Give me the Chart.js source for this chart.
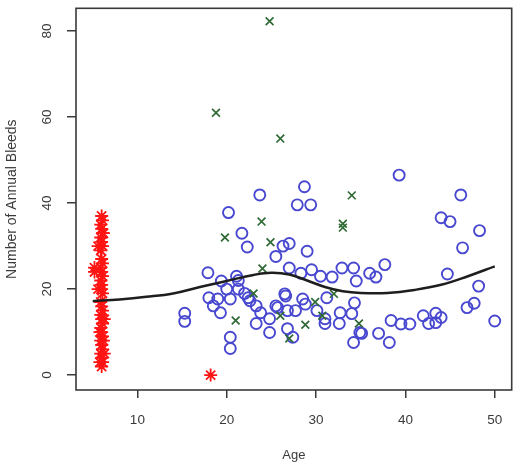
<!DOCTYPE html>
<html>
<head>
<meta charset="utf-8">
<script src="https://cdn.jsdelivr.net/npm/chart.js@4/dist/chart.umd.min.js"></script>
<style>
  html, body { margin: 0; padding: 0; background: #fff; }
  #wrap { width: 520px; height: 469px; }
</style>
</head>
<body>
<div id="wrap"><canvas id="bleedChart" width="520" height="469"></canvas></div>
<script>
// tick labels
const xTicks = [10, 20, 30, 40, 50];
const yTicks = [0, 20, 40, 60, 80];

// red stars: age, bleeds
const starAge = [6, 6.1, 5.9, 6, 6.1, 5.9, 6, 6.1, 5.9, 6, 6.1, 5.9, 6, 6.1, 5.9, 6, 6, 6.1, 5.9, 6, 6.1, 5.9, 6, 6.1, 5.9, 6, 6.1, 5.9, 6, 6.1, 5.9, 6, 6.1, 6,
  5.2, 5.2, 5.6, 5.6, 6.3, 6.3, 6.2, 5.8, 6.2, 5.8, 18.2];
const starBleeds = [37, 36, 35, 34, 33, 32, 31, 30, 29, 27, 26, 25, 24, 23, 22, 21, 20, 19, 17, 16, 15, 14, 13, 12, 11, 10, 9, 8, 7, 6, 5, 4, 3, 2,
  25, 24, 30, 20, 13, 5, 8, 10, 33, 3, 0];

// blue circles: age, bleeds
const circleAge = [15.3, 15.3, 17.9, 20.2, 21.7, 22.3, 23.7, 19.4, 21.1, 20, 21.3, 18, 19, 20.4, 18.5, 19.3, 22.6, 23.3,
  23.8, 23.3, 24.8, 20.4, 20.4, 26.3, 27, 25.5, 29, 27, 28.3, 21.3, 22.4, 26.5, 28.5, 25.5, 26.8, 27.7, 24.8, 30.1,
  31, 26.8, 27.4, 28.7, 27.9, 29.4, 39.3, 46.2, 44, 45, 48.3, 46.4, 37.7, 44.7, 48.2, 46.9, 47.7, 50, 38.4, 39.5,
  40.5, 42, 42.6, 43.4, 44, 43.4, 37, 38.2, 34.2, 35.1, 32.9, 34.2, 31.8, 36, 36.7, 34.5, 26.6, 28.8, 31.2, 34.3,
  32.7, 34, 31, 32.6, 25.7, 34.9, 22, 29.5, 30.5];
const circleBleeds = [14.4, 12.5, 23.8, 37.8, 33, 29.8, 41.9, 21.9, 23, 20, 20, 18, 17.7, 17.7, 16.1, 14.5, 17.3, 16.1,
  14.5, 12, 9.9, 8.8, 6.2, 30, 30.6, 27.6, 28.8, 24.9, 23.7, 22, 18, 18.9, 17.7, 16.1, 15, 15, 13.1, 15,
  13.1, 10.8, 8.8, 43.8, 39.6, 39.6, 46.5, 41.9, 36.6, 35.7, 33.6, 29.6, 25.7, 23.5, 20.7, 15.7, 16.7, 12.6, 12.7, 11.9,
  11.9, 13.8, 12, 14.4, 13.4, 12.2, 9.7, 7.6, 7.6, 9.7, 24.9, 24.9, 22.8, 23.7, 22.8, 21.9, 18.4, 16.5, 18, 16.8,
  14.5, 14.3, 12, 12, 15.7, 9.9, 19, 24.5, 23];

// green crosses: age, bleeds
const crossAge = [24.8, 18.8, 26, 34, 23.9, 19.8, 24.9, 33, 33, 24, 23, 21, 29.9, 28.8, 27, 30.7, 32, 34.8, 26];
const crossBleeds = [82.3, 61, 55, 41.8, 35.7, 32, 30.9, 34.3, 35.2, 24.8, 19, 12.7, 17, 11.7, 8.5, 13.8, 18.9, 12, 13.8];

// smoothed fit line
const fitAge = [5, 8, 11, 14, 17, 20, 23, 25, 27, 29, 31, 33, 35, 38, 41, 44, 47, 50];
const fitBleeds = [17.2, 17.6, 18.2, 19.0, 20.5, 21.9, 23.3, 23.8, 23.4, 22.0, 20.5, 19.5, 19.1, 19.1, 19.8, 21.0, 23.0, 25.3];

const toPoints = (xs, ys) => xs.map((x, i) => ({ x: x, y: ys[i] }));

// box round the plot region, like R's bty="o"
const boxPlugin = {
  id: 'box',
  afterDraw(chart) {
    const { ctx, chartArea: a } = chart;
    ctx.save();
    ctx.strokeStyle = '#3a3a3a';
    ctx.lineWidth = 1.6;
    ctx.strokeRect(a.left, a.top, a.right - a.left, a.bottom - a.top);
    ctx.restore();
  }
};

// y tick labels drawn parallel to the axis
const yLabelPlugin = {
  id: 'yLabels',
  afterDraw(chart) {
    const { ctx } = chart;
    const y = chart.scales.y;
    ctx.save();
    ctx.fillStyle = '#3a3a3a';
    ctx.font = '13.5px "Liberation Sans", Arial, sans-serif';
    ctx.textAlign = 'center';
    ctx.textBaseline = 'middle';
    yTicks.forEach(v => {
      ctx.save();
      ctx.translate(47, y.getPixelForValue(v));
      ctx.rotate(-Math.PI / 2);
      ctx.fillText(String(v), 0, 0);
      ctx.restore();
    });
    ctx.restore();
  }
};

const ctx = document.getElementById('bleedChart').getContext('2d');
new Chart(ctx, {
  type: 'scatter',
  data: {
    datasets: [
      {
        label: 'fit',
        type: 'line',
        data: toPoints(fitAge, fitBleeds),
        borderColor: '#1e1e1e',
        borderWidth: 2.5,
        pointRadius: 0,
        tension: 0.4,
        fill: false,
        order: 0
      },
      {
        label: 'crosses',
        data: toPoints(crossAge, crossBleeds),
        pointStyle: 'crossRot',
        pointRadius: 5.5,
        borderColor: '#2f6a35',
        borderWidth: 1.7,
        order: 1
      },
      {
        label: 'circles',
        data: toPoints(circleAge, circleBleeds),
        pointStyle: 'circle',
        pointRadius: 5.5,
        borderColor: '#4848d0',
        backgroundColor: 'rgba(0,0,0,0)',
        borderWidth: 1.9,
        order: 2
      },
      {
        label: 'stars',
        data: toPoints(starAge, starBleeds),
        pointStyle: 'star',
        pointRadius: 6.5,
        borderColor: '#ff1414',
        borderWidth: 1.8,
        order: 3
      }
    ]
  },
  options: {
    responsive: false,
    animation: false,
    layout: { padding: { top: 5, right: 4, left: 0, bottom: 0 } },
    plugins: {
      legend: { display: false },
      tooltip: { enabled: false }
    },
    scales: {
      x: {
        type: 'linear',
        min: 3.13,
        max: 51.9,
        afterFit(scale) { scale.height = 79; },
        afterBuildTicks(axis) { axis.ticks = xTicks.map(v => ({ value: v })); },
        border: { display: false },
        grid: { drawOnChartArea: false, drawTicks: true, tickLength: 8, color: '#3a3a3a', lineWidth: 1.5 },
        ticks: {
          color: '#3a3a3a',
          padding: 14,
          maxRotation: 0,
          font: { family: '"Liberation Sans", Arial, sans-serif', size: 13.5 }
        },
        title: {
          display: true,
          text: 'Age',
          color: '#3a3a3a',
          padding: { top: 0, bottom: 6 },
          font: { family: '"Liberation Sans", Arial, sans-serif', size: 13 }
        }
      },
      y: {
        type: 'linear',
        min: -3.46,
        max: 85.3,
        afterFit(scale) { scale.width = 76; },
        afterBuildTicks(axis) { axis.ticks = yTicks.map(v => ({ value: v })); },
        border: { display: false },
        grid: { drawOnChartArea: false, drawTicks: true, tickLength: 9, color: '#3a3a3a', lineWidth: 1.5 },
        ticks: { display: false },
        title: {
          display: true,
          text: 'Number of Annual Bleeds',
          color: '#3a3a3a',
          padding: { top: 4, bottom: 0 },
          font: { family: '"Liberation Sans", Arial, sans-serif', size: 14 }
        }
      }
    }
  },
  plugins: [boxPlugin, yLabelPlugin]
});
</script>
</body>
</html>
